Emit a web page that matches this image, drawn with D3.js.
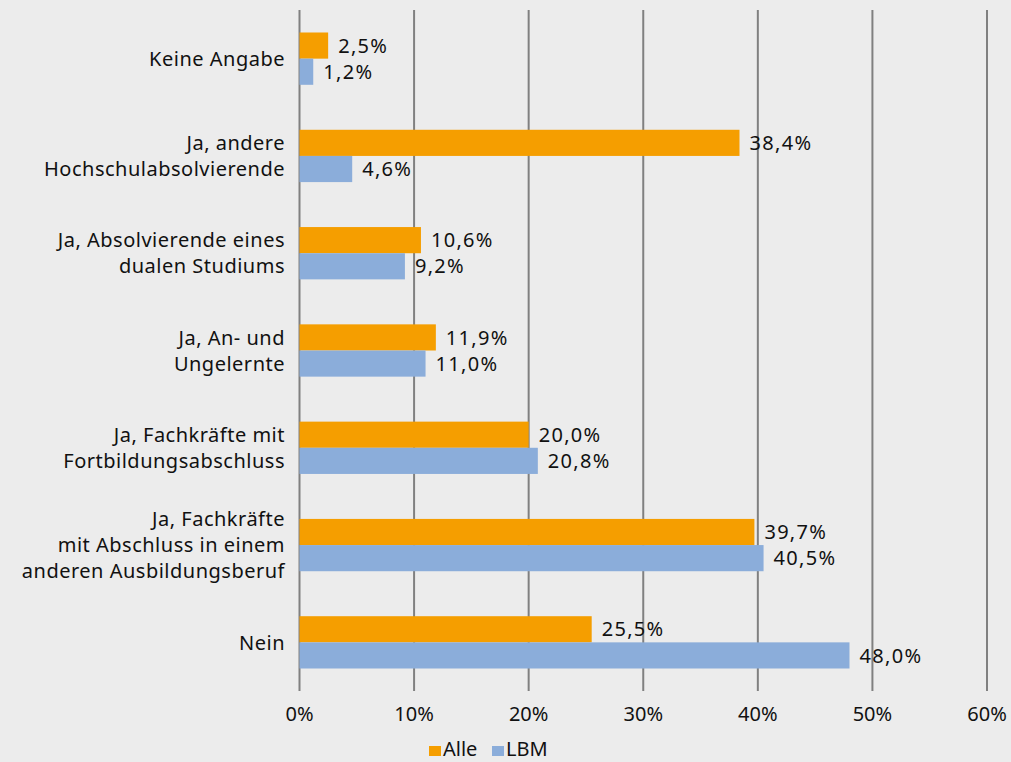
<!DOCTYPE html>
<html>
<head>
<meta charset="utf-8">
<script src="https://cdn.jsdelivr.net/npm/d3@7"></script>
<style>
  html, body { margin: 0; padding: 0; background: #ececec; }
  svg { display: block; font-family: "Noto Sans", "Open Sans", sans-serif; }
</style>
</head>
<body>
<svg id="chart" width="1011" height="762"></svg>
<script>
// Categories, top to bottom; each entry is the label split into lines
const categories = [
  ["Keine Angabe"],
  ["Ja, andere", "Hochschulabsolvierende"],
  ["Ja, Absolvierende eines", "dualen Studiums"],
  ["Ja, An- und", "Ungelernte"],
  ["Ja, Fachkräfte mit", "Fortbildungsabschluss"],
  ["Ja, Fachkräfte", "mit Abschluss in einem", "anderen Ausbildungsberuf"],
  ["Nein"]
];
const seriesNames = ["Alle", "LBM"];
const alleValues = [2.5, 38.4, 10.6, 11.9, 20.0, 39.7, 25.5];
const lbmValues  = [1.2, 4.6, 9.2, 11.0, 20.8, 40.5, 48.0];
const xTicks = [0, 10, 20, 30, 40, 50, 60];
const colors = ["#f59e00", "#8badda"];

const svg = d3.select("#chart");
const margin = { left: 299.5, top: 10, bottom: 71 };
const W = 1011, H = 762;
const FS = 20;

const x = d3.scaleLinear().domain([0, 60]).range([margin.left, 987]);
const y = d3.scaleBand().domain(d3.range(categories.length))
  .range([margin.top, H - margin.bottom]);
const sub = d3.scaleBand().domain([0, 1])
  .range([0, y.bandwidth()]).paddingOuter(0.86);

const fmt = v => d3.format(".1f")(v).replace(".", ",") + "%";

// Vertical gridlines
svg.append("g").selectAll("line").data(xTicks).join("line")
  .attr("x1", d => x(d)).attr("x2", d => x(d))
  .attr("y1", margin.top).attr("y2", H - margin.bottom)
  .attr("stroke", "#808080").attr("stroke-width", 2);

// Bars and value labels
const series = [alleValues, lbmValues];
series.forEach((vals, s) => {
  const g = svg.append("g");
  g.selectAll("rect").data(vals).join("rect")
    .attr("x", x(0))
    .attr("y", (d, i) => y(i) + sub(s))
    .attr("width", d => x(d) - x(0))
    .attr("height", sub.bandwidth())
    .attr("fill", colors[s]);
  g.selectAll("text").data(vals).join("text")
    .attr("x", d => x(d) + 10)
    .attr("y", (d, i) => y(i) + sub(s) + sub.bandwidth() / 2)
    .attr("dy", "0.36em")
    .attr("font-size", FS)
    .attr("letter-spacing", 1.3)
    .attr("fill", "#111")
    .text(d => fmt(d));
});

// Category labels
const lh = 26;
const catG = svg.append("g");
categories.forEach((lines, i) => {
  const cy = y(i) + y.bandwidth() / 2;
  const t = catG.append("text")
    .attr("text-anchor", "end")
    .attr("font-size", FS)
    .attr("letter-spacing", 0.5)
    .attr("fill", "#111");
  lines.forEach((ln, k) => {
    t.append("tspan")
      .attr("x", 285)
      .attr("y", cy + (k - (lines.length - 1) / 2) * lh)
      .attr("dy", "0.36em")
      .text(ln);
  });
});

// X axis tick labels
svg.append("g").selectAll("text").data(xTicks).join("text")
  .attr("x", d => x(d))
  .attr("y", 714)
  .attr("dy", "0.36em")
  .attr("text-anchor", "middle")
  .attr("font-size", FS)
  .attr("fill", "#111")
  .text(d => d + "%");

// Legend
const legend = svg.append("g");
const legendItems = [{ x: 429, name: seriesNames[0], c: colors[0] },
                     { x: 492, name: seriesNames[1], c: colors[1] }];
legendItems.forEach(it => {
  legend.append("rect").attr("x", it.x).attr("y", 746)
    .attr("width", 12).attr("height", 10).attr("fill", it.c);
  legend.append("text").attr("x", it.x + 14).attr("y", 756)
    .attr("font-size", FS).attr("fill", "#111")
    .text(it.name);
});
</script>
</body>
</html>
